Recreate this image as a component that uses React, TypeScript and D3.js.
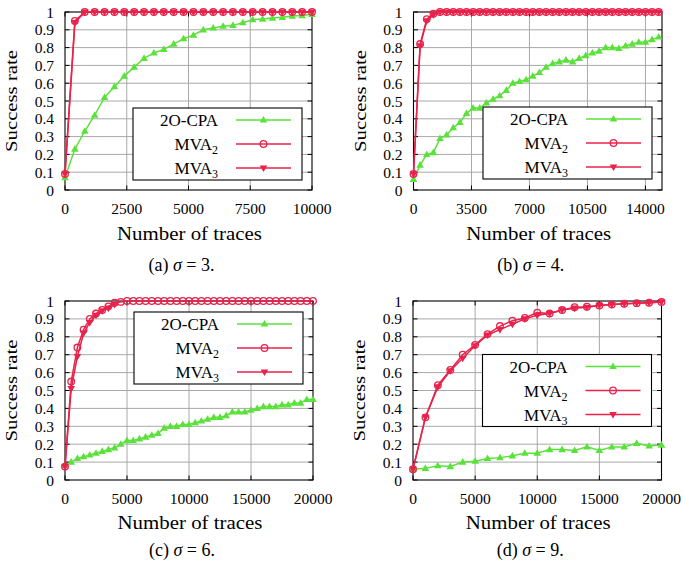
import React from 'react';
import * as d3 from 'd3';

const FONT = "'Liberation Serif', 'DejaVu Serif', serif";
const GREEN = '#5ae23a';
const RED = '#e8224b';
const GRID = '#a8a8a8';

// ---------- data ----------
const yTicks = [0, 0.1, 0.2, 0.3, 0.4, 0.5, 0.6, 0.7, 0.8, 0.9, 1];
const yTickLabels = ['0', '0.1', '0.2', '0.3', '0.4', '0.5', '0.6', '0.7', '0.8', '0.9', '1'];

const xTicksA = [0, 2500, 5000, 7500, 10000];
const xTicksB = [0, 3500, 7000, 10500, 14000];
const xTicksCD = [0, 5000, 10000, 15000, 20000];

const seriesNames = ['2O-CPA', 'MVA', 'MVA'];
const seriesSubs = ['', '2', '3'];

// (a) sigma = 3
const xA = [0, 400, 800, 1200, 1600, 2000, 2400, 2800, 3200, 3600, 4000, 4400, 4800, 5200, 5600, 6000, 6400, 6800, 7200, 7600, 8000, 8400, 8800, 9200, 9600, 10000];
const cpaA = [0.07, 0.23, 0.33, 0.42, 0.52, 0.58, 0.64, 0.69, 0.74, 0.77, 0.79, 0.82, 0.85, 0.87, 0.9, 0.91, 0.92, 0.925, 0.94, 0.957, 0.96, 0.966, 0.97, 0.977, 0.98, 0.987];
const mva2A = [0.09, 0.95, 1, 1, 1, 1, 1, 1, 1, 1, 1, 1, 1, 1, 1, 1, 1, 1, 1, 1, 1, 1, 1, 1, 1, 1];
const mva3A = [0.09, 0.94, 1, 1, 1, 1, 1, 1, 1, 1, 1, 1, 1, 1, 1, 1, 1, 1, 1, 1, 1, 1, 1, 1, 1, 1];

// (b) sigma = 4
const xB = [0, 400, 800, 1200, 1600, 2000, 2400, 2800, 3200, 3600, 4000, 4400, 4800, 5200, 5600, 6000, 6400, 6800, 7200, 7600, 8000, 8400, 8800, 9200, 9600, 10000, 10400, 10800, 11200, 11600, 12000, 12400, 12800, 13200, 13600, 14000, 14400, 14800];
const cpaB = [0.06, 0.14, 0.2, 0.21, 0.29, 0.31, 0.35, 0.38, 0.43, 0.46, 0.46, 0.49, 0.51, 0.53, 0.56, 0.6, 0.61, 0.62, 0.64, 0.66, 0.69, 0.71, 0.72, 0.73, 0.72, 0.74, 0.755, 0.77, 0.78, 0.8, 0.8, 0.795, 0.81, 0.82, 0.83, 0.83, 0.845, 0.86];
const mva2B = [0.09, 0.82, 0.96, 0.99, 1, 1, 1, 1, 1, 1, 1, 1, 1, 1, 1, 1, 1, 1, 1, 1, 1, 1, 1, 1, 1, 1, 1, 1, 1, 1, 1, 1, 1, 1, 1, 1, 1, 1];
const mva3B = [0.09, 0.81, 0.95, 0.985, 1, 1, 1, 1, 1, 1, 1, 1, 1, 1, 1, 1, 1, 1, 1, 1, 1, 1, 1, 1, 1, 1, 1, 1, 1, 1, 1, 1, 1, 1, 1, 1, 1, 1];

// (c) sigma = 6
const xC = [0, 500, 1000, 1500, 2000, 2500, 3000, 3500, 4000, 4500, 5000, 5500, 6000, 6500, 7000, 7500, 8000, 8500, 9000, 9500, 10000, 10500, 11000, 11500, 12000, 12500, 13000, 13500, 14000, 14500, 15000, 15500, 16000, 16500, 17000, 17500, 18000, 18500, 19000, 19500, 20000];
const cpaC = [0.08, 0.1, 0.12, 0.13, 0.14, 0.15, 0.16, 0.17, 0.18, 0.2, 0.22, 0.22, 0.23, 0.24, 0.25, 0.26, 0.29, 0.3, 0.3, 0.31, 0.31, 0.32, 0.33, 0.34, 0.35, 0.35, 0.36, 0.38, 0.38, 0.38, 0.39, 0.4, 0.41, 0.41, 0.41, 0.42, 0.42, 0.43, 0.43, 0.45, 0.45];
const mva2C = [0.075, 0.55, 0.74, 0.84, 0.9, 0.93, 0.95, 0.97, 0.99, 0.995, 1, 1, 1, 1, 1, 1, 1, 1, 1, 1, 1, 1, 1, 1, 1, 1, 1, 1, 1, 1, 1, 1, 1, 1, 1, 1, 1, 1, 1, 1, 1];
const xC3 = [0, 500, 1000, 1500, 2000, 2500, 3000, 3500, 4000];
const mva3C = [0.075, 0.51, 0.69, 0.82, 0.88, 0.92, 0.945, 0.96, 0.98];

// (d) sigma = 9
const xD = [0, 1000, 2000, 3000, 4000, 5000, 6000, 7000, 8000, 9000, 10000, 11000, 12000, 13000, 14000, 15000, 16000, 17000, 18000, 19000, 20000];
const cpaD = [0.06, 0.065, 0.08, 0.075, 0.1, 0.105, 0.12, 0.125, 0.135, 0.15, 0.15, 0.17, 0.17, 0.165, 0.185, 0.165, 0.185, 0.185, 0.205, 0.19, 0.195];
const mva2D = [0.06, 0.35, 0.53, 0.615, 0.7, 0.755, 0.815, 0.86, 0.89, 0.905, 0.935, 0.93, 0.95, 0.965, 0.968, 0.975, 0.98, 0.985, 0.988, 0.99, 0.995];
const mva3D = [0.06, 0.35, 0.52, 0.61, 0.68, 0.75, 0.81, 0.84, 0.87, 0.9, 0.92, 0.93, 0.95, 0.96, 0.965, 0.975, 0.98, 0.985, 0.988, 0.99, 0.995];

// ---------- layout ----------
const panels = [
  { id: 'a', sigma: '3', left: 65, right: 312, top: 12, bottom: 190, xMax: 10000, xTicks: xTicksA, legendTop: 108,
    cpa: [xA, cpaA], mva2: [xA, mva2A], mva3: [xA, mva3A] },
  { id: 'b', sigma: '4', left: 413.5, right: 662, top: 12, bottom: 190, xMax: 15000, xTicks: xTicksB, legendTop: 107,
    cpa: [xB, cpaB], mva2: [xB, mva2B], mva3: [xB, mva3B] },
  { id: 'c', sigma: '6', left: 65, right: 313, top: 301, bottom: 480, xMax: 20000, xTicks: xTicksCD, legendTop: 312,
    cpa: [xC, cpaC], mva2: [xC, mva2C], mva3: [xC3, mva3C] },
  { id: 'd', sigma: '9', left: 413, right: 661.5, top: 301, bottom: 480, xMax: 20000, xTicks: xTicksCD, legendTop: 354.5,
    cpa: [xD, cpaD], mva2: [xD, mva2D], mva3: [xD, mva3D] },
];

const triUp = (x: number, y: number) => `M${x},${y - 4}L${x + 3.8},${y + 2.6}L${x - 3.8},${y + 2.6}Z`;
const triDown = (x: number, y: number) => `M${x},${y + 4}L${x + 3.8},${y - 2.6}L${x - 3.8},${y - 2.6}Z`;

const txt = (size: number) => ({ fontFamily: FONT, fontSize: size + 'px' });

function Panel({ p }: { p: any }) {
  const x = d3.scaleLinear().domain([0, p.xMax]).range([p.left, p.right]);
  const y = d3.scaleLinear().domain([0, 1]).range([p.bottom, p.top]);
  const line = (xs: number[], ys: number[]) =>
    d3.line<number>().x((_, i) => x(xs[i])).y((v) => y(v))(ys) || '';
  const [cx, cy] = p.cpa;
  const [m2x, m2y] = p.mva2;
  const [m3x, m3y] = p.mva3;
  const cxm = (p.left + p.right) / 2;
  const cym = (p.top + p.bottom) / 2;
  const isTop = p.top < 100;
  const tickBase = p.bottom + 24;
  const titleBase = isTop ? 240 : 529;
  const capBase = isTop ? 271 : 556;
  const lgL = p.right - 179;
  const lgW = 169;
  const rows = [p.legendTop + 12, p.legendTop + 36, p.legendTop + 60];
  const lx1 = lgL + 103, lx2 = lgL + 158, lxm = (lx1 + lx2) / 2;
  const tk = 4.5;
  return (
    <g>
      {yTicks.slice(1, -1).map((t) => (
        <line key={'gy' + t} x1={p.left} x2={p.right} y1={y(t)} y2={y(t)} stroke={GRID} strokeWidth={1} />
      ))}
      {p.xTicks.slice(1).filter((t: number) => x(t) < p.right - 1).map((t: number) => (
        <line key={'gx' + t} x1={x(t)} x2={x(t)} y1={p.top} y2={p.bottom} stroke={GRID} strokeWidth={1} />
      ))}
      {yTicks.map((t) => (
        <g key={'ty' + t}>
          <line x1={p.left} x2={p.left + tk} y1={y(t)} y2={y(t)} stroke="#000" strokeWidth={1} />
          <line x1={p.right} x2={p.right - tk} y1={y(t)} y2={y(t)} stroke="#000" strokeWidth={1} />
        </g>
      ))}
      {p.xTicks.map((t: number) => (
        <g key={'tx' + t}>
          <line x1={x(t)} x2={x(t)} y1={p.bottom} y2={p.bottom - tk} stroke="#000" strokeWidth={1} />
          <line x1={x(t)} x2={x(t)} y1={p.top} y2={p.top + tk} stroke="#000" strokeWidth={1} />
        </g>
      ))}
      <rect x={p.left} y={p.top} width={p.right - p.left} height={p.bottom - p.top} fill="none" stroke="#000" strokeWidth={1.1} />
      {yTicks.map((t, i) => (
        <text key={'ly' + t} x={p.left - 11} y={y(t) + 5.5} textAnchor="end" style={txt(15.5)}>{yTickLabels[i]}</text>
      ))}
      {p.xTicks.map((t: number) => (
        <text key={'lx' + t} x={x(t)} y={tickBase} textAnchor="middle" style={txt(15.5)}>{String(t)}</text>
      ))}
      <text transform={`translate(${p.left - 48},${cym}) rotate(-90)`} textAnchor="middle"
        style={txt(17)} textLength={102} lengthAdjust="spacingAndGlyphs">Success rate</text>
      <text x={cxm + 1} y={titleBase} textAnchor="middle" style={txt(18)} textLength={145} lengthAdjust="spacingAndGlyphs">Number of traces</text>
      <text x={cxm - 7} y={capBase} textAnchor="middle" style={txt(18)}>
        {`(${p.id}) `}<tspan style={{ fontStyle: 'italic' }}>σ</tspan>{` = ${p.sigma}.`}
      </text>
      <path d={line(cx, cy)} fill="none" stroke={GREEN} strokeWidth={1.5} />
      {cy.map((v: number, i: number) => <path key={'c' + i} d={triUp(x(cx[i]), y(v))} fill={GREEN} />)}
      <path d={line(m3x, m3y)} fill="none" stroke={RED} strokeWidth={1.5} />
      <path d={line(m2x, m2y)} fill="none" stroke={RED} strokeWidth={1.5} />
      {m2y.map((v: number, i: number) => <circle key={'m2' + i} cx={x(m2x[i])} cy={y(v)} r={3.3} fill="none" stroke={RED} strokeWidth={1.3} />)}
      {m3y.map((v: number, i: number) => <path key={'m3' + i} d={triDown(x(m3x[i]), y(v))} fill={RED} />)}
      <rect x={lgL} y={p.legendTop} width={lgW} height={72} fill="#fff" stroke="#000" strokeWidth={1.1} />
      {seriesNames.map((n, i) => (
        <g key={'lg' + i}>
          <text x={lgL + 85} y={rows[i] + 6} textAnchor="end" style={txt(17)}>
            {n}{seriesSubs[i] ? <tspan style={{ fontSize: '12px' }} dy={4}>{seriesSubs[i]}</tspan> : null}
          </text>
          <line x1={lx1} x2={lx2} y1={rows[i]} y2={rows[i]} stroke={i === 0 ? GREEN : RED} strokeWidth={1.5} />
          {i === 0 && <path d={triUp(lxm, rows[i])} fill={GREEN} />}
          {i === 1 && <circle cx={lxm} cy={rows[i]} r={3.3} fill="none" stroke={RED} strokeWidth={1.3} />}
          {i === 2 && <path d={triDown(lxm, rows[i])} fill={RED} />}
        </g>
      ))}
    </g>
  );
}

export default function App() {
  return (
    <svg width={685} height={566} viewBox="0 0 685 566"
      style={{ position: 'absolute', left: 0, top: 0, background: '#fff', fontFamily: FONT }}>
      <rect width={685} height={566} fill="#fff" />
      {panels.map((p) => <Panel key={p.id} p={p} />)}
    </svg>
  );
}
